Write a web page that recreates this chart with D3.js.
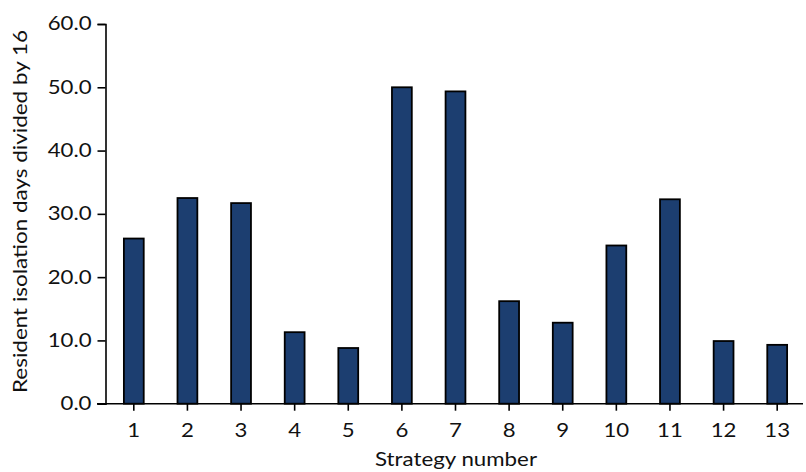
<!DOCTYPE html>
<html><head><meta charset="utf-8">
<script src="https://cdn.jsdelivr.net/npm/d3@7"></script>
<style>body{margin:0;background:#fff}</style>
</head><body>
<svg id="c" width="806" height="472"></svg>
<script>
const categories = ["1","2","3","4","5","6","7","8","9","10","11","12","13"];
const values = [26.1, 32.5, 31.7, 11.3, 8.8, 50.0, 49.35, 16.2, 12.8, 25.0, 32.3, 9.9, 9.3];
const yTicks = [0, 10, 20, 30, 40, 50, 60];
const xTitle = "Strategy number";
const yTitle = "Resident isolation days divided by 16";

const SX = 1.2;           // horizontal glyph stretch seen in the reference
const FS = 18.5;
const svg = d3.select("#c");
const x = d3.scaleBand().domain(categories).range([107, 804]).paddingInner(0.63).paddingOuter(0.315);
const y = d3.scaleLinear().domain([0, 60]).range([403.7, 24]);

svg.append("g").selectAll("rect").data(values).join("rect")
  .attr("x", (d,i) => x(categories[i]))
  .attr("y", d => y(d))
  .attr("width", x.bandwidth())
  .attr("height", d => y(0) - y(d))
  .attr("fill", "#1c3e70").attr("stroke", "#000").attr("stroke-width", 1.8);

const yAxis = svg.append("g").attr("transform", "translate(105.5,0)")
  .call(d3.axisLeft(y).tickValues(yTicks).tickFormat(d3.format(".1f")).tickSize(8).tickPadding(6));
yAxis.select(".domain").attr("stroke-width", 1.6);
yAxis.selectAll(".tick line").attr("stroke-width", 1.6);
yAxis.selectAll("text").attr("font-family", "Lato").attr("font-size", FS).attr("fill", "#111")
  .attr("x", 0).attr("transform", `translate(-14,0) scale(${SX},1)`);

const xAxis = svg.append("g").attr("transform", "translate(0,403.7)")
  .call(d3.axisBottom(x).tickSize(7).tickPadding(13).tickSizeOuter(0));
xAxis.select(".domain").attr("d", "M97,0H803").attr("stroke-width", 1.6);
xAxis.selectAll(".tick line").attr("stroke-width", 1.6);
xAxis.selectAll("text").attr("font-family", "Lato").attr("font-size", FS).attr("fill", "#111")
  .attr("transform", `scale(${SX},1)`);

svg.append("text").attr("x", 456).attr("y", 466).attr("text-anchor", "middle")
  .attr("font-family", "Lato").attr("font-size", FS).attr("fill", "#111")
  .attr("textLength", 162).attr("lengthAdjust", "spacingAndGlyphs").text(xTitle);
svg.append("text").attr("transform", "translate(27,211.5) rotate(-90)").attr("text-anchor", "middle")
  .attr("font-family", "Lato").attr("font-size", 20).attr("fill", "#111")
  .attr("textLength", 363).attr("lengthAdjust", "spacingAndGlyphs").text(yTitle);
</script>
</body></html>
